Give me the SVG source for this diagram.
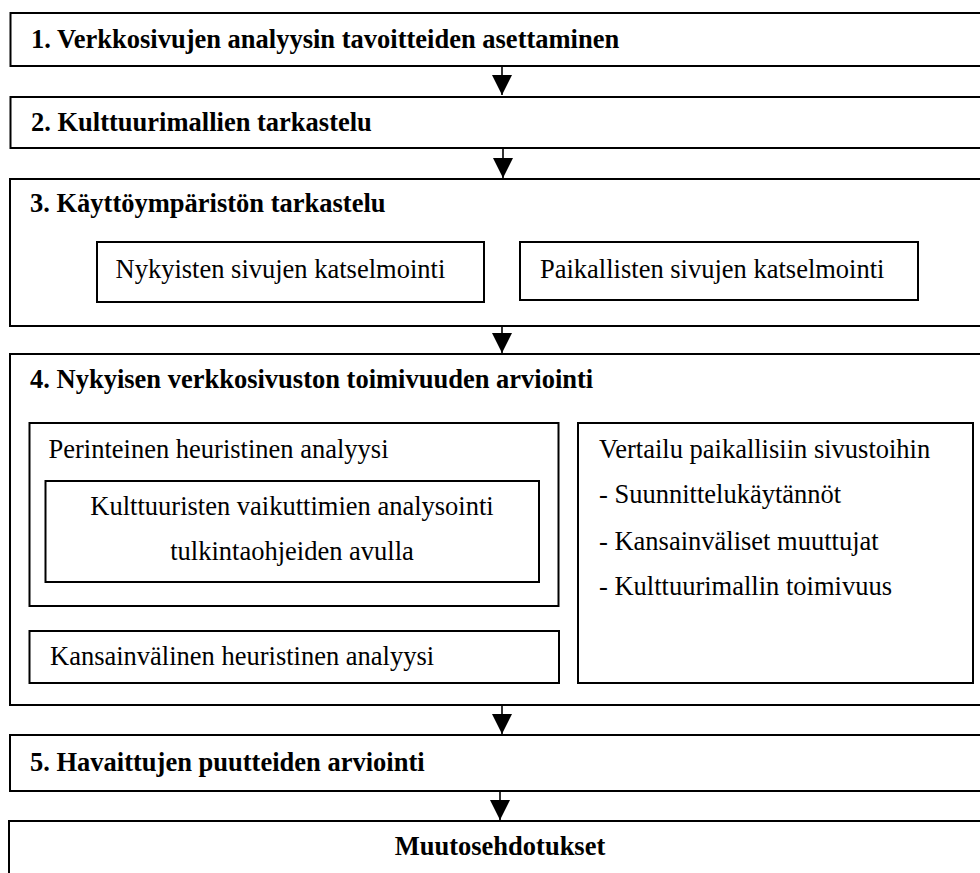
<svg xmlns="http://www.w3.org/2000/svg" width="980" height="873" viewBox="0 0 980 873">
<style>
  .box { fill: #fff; stroke: #000; stroke-width: 2; }
  .inner { fill: #fff; stroke: #000; stroke-width: 2; }
  .t { font-family: "Liberation Serif", "Times New Roman", serif; font-size: 26.5px; fill: #000; }
  .b { font-weight: bold; }
  .conn { stroke: #000; stroke-width: 1.6; fill: none; marker-end: url(#arr); }
</style>
<defs>
  <marker id="arr" viewBox="0 0 20 20" markerUnits="userSpaceOnUse" markerWidth="20" markerHeight="20" refX="20" refY="10" orient="auto">
    <path d="M0,0 L20,10 L0,20 Z" fill="#000"/>
  </marker>
</defs>
<rect width="980" height="873" fill="#fff"/>

<g id="n1">
  <rect class="box" x="10.5" y="13" width="990" height="53"/>
  <text class="t b" x="31" y="48">1. Verkkosivujen analyysin tavoitteiden asettaminen</text>
</g>
<g id="n2">
  <rect class="box" x="10.5" y="97" width="990" height="51"/>
  <text class="t b" x="31" y="131">2. Kulttuurimallien tarkastelu</text>
</g>
<g id="n3">
  <rect class="box" x="10" y="179" width="990" height="147"/>
  <text class="t b" x="30" y="212">3. Käyttöympäristön tarkastelu</text>
  <g id="n3a">
    <rect class="inner" x="97" y="242" width="387" height="60"/>
    <text class="t" x="115.5" y="278">Nykyisten sivujen katselmointi</text>
  </g>
  <g id="n3b">
    <rect class="inner" x="520" y="242" width="398" height="58"/>
    <text class="t" x="540" y="278">Paikallisten sivujen katselmointi</text>
  </g>
</g>
<g id="n4">
  <rect class="box" x="10" y="354" width="990" height="351"/>
  <text class="t b" x="30" y="388">4. Nykyisen verkkosivuston toimivuuden arviointi</text>
  <g id="n4a">
    <rect class="inner" x="29.5" y="423" width="529" height="183"/>
    <text class="t" x="48.5" y="458">Perinteinen heuristinen analyysi</text>
    <g id="n4a1">
      <rect class="inner" x="45.5" y="481" width="493.5" height="101"/>
      <text class="t" x="292" y="515" text-anchor="middle">Kulttuuristen vaikuttimien analysointi</text>
      <text class="t" x="292" y="560" text-anchor="middle">tulkintaohjeiden avulla</text>
    </g>
  </g>
  <g id="n4b">
    <rect class="inner" x="29.5" y="631" width="529.5" height="52"/>
    <text class="t" x="50" y="665">Kansainvälinen heuristinen analyysi</text>
  </g>
  <g id="n4c">
    <rect class="inner" x="578" y="423" width="395" height="260"/>
    <text class="t" x="599" y="458">Vertailu paikallisiin sivustoihin</text>
    <text class="t" x="599" y="503">- Suunnittelukäytännöt</text>
    <text class="t" x="599" y="550">- Kansainväliset muuttujat</text>
    <text class="t" x="599" y="595">- Kulttuurimallin toimivuus</text>
  </g>
</g>
<g id="n5">
  <rect class="box" x="10" y="735" width="990" height="56"/>
  <text class="t b" x="30" y="771">5. Havaittujen puutteiden arviointi</text>
</g>
<g id="n6">
  <rect class="box" x="9" y="821" width="990" height="80"/>
  <text class="t b" x="500" y="855" text-anchor="middle">Muutosehdotukset</text>
</g>

<g id="connectors">
  <line class="conn" x1="502" y1="66" x2="502" y2="95"/>
  <line class="conn" x1="503" y1="148" x2="503" y2="178"/>
  <line class="conn" x1="502" y1="326" x2="502" y2="353"/>
  <line class="conn" x1="502" y1="705" x2="502" y2="734"/>
  <line class="conn" x1="500" y1="791" x2="500" y2="820"/>
</g>
</svg>
